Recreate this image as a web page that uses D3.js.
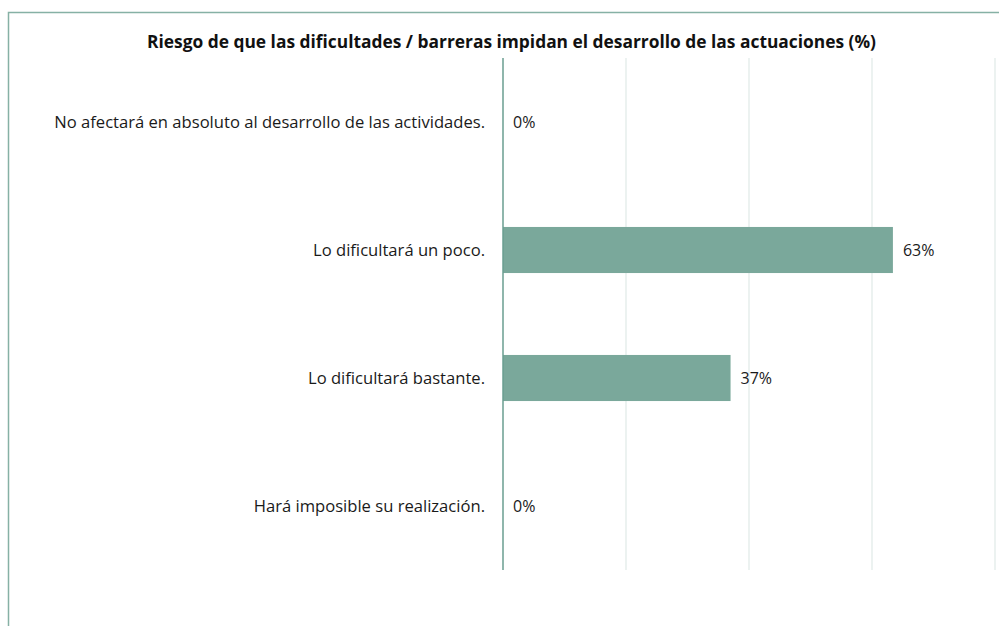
<!DOCTYPE html>
<html><head><meta charset="utf-8">
<script src="https://cdn.jsdelivr.net/npm/d3@7"></script>
<style>body{margin:0;background:#fff}svg{display:block}</style>
</head><body>
<script>
const categories = ["No afectará en absoluto al desarrollo de las actividades.","Lo dificultará un poco.","Lo dificultará bastante.","Hará imposible su realización."];
const values = [0, 63.4, 37, 0];
const labels = ["0%","63%","37%","0%"];
const ticks = [0,20,40,60,80];
const title = "Riesgo de que las dificultades / barreras impidan el desarrollo de las actuaciones (%)";

const W=999,H=626;
const svg=d3.select("body").append("svg").attr("width",W).attr("height",H);
const font="'Open Sans', 'Noto Sans', sans-serif";
// border
svg.append("rect").attr("x",8.5).attr("y",12.5).attr("width",1200).attr("height",1200)
  .attr("fill","none").attr("stroke","#86b1a5").attr("stroke-width",1.5);

const x=d3.scaleLinear().domain([0,80]).range([503,995]);
const y=d3.scaleBand().domain(categories).range([58,570]).paddingInner(0.64).paddingOuter(0.32);

svg.append("g").selectAll("line").data(ticks.slice(1)).join("line")
  .attr("x1",d=>x(d)).attr("x2",d=>x(d)).attr("y1",58).attr("y2",570)
  .attr("stroke","#dfeae7").attr("stroke-width",1.2);

svg.append("g").selectAll("rect").data(categories).join("rect")
  .attr("x",x(0)).attr("y",d=>y(d)).attr("height",y.bandwidth())
  .attr("width",(d,i)=>x(values[i])-x(0)).attr("fill","#7aa89b");

svg.append("line").attr("x1",x(0)).attr("x2",x(0)).attr("y1",58).attr("y2",570)
  .attr("stroke","#6a9e90").attr("stroke-width",1.5);

svg.append("g").selectAll("text").data(categories).join("text")
  .attr("x",485).attr("y",d=>y(d)+y.bandwidth()/2).attr("dy","0.35em")
  .attr("text-anchor","end").attr("font-family",font).attr("font-size",16.6).attr("fill","#1a1a1a")
  .text(d=>d);

svg.append("g").selectAll("text").data(categories).join("text")
  .attr("x",(d,i)=>x(values[i])+10).attr("y",d=>y(d)+y.bandwidth()/2).attr("dy","0.35em")
  .attr("font-family",font).attr("font-size",16).attr("fill","#1a1a1a")
  .text((d,i)=>labels[i]);

svg.append("text").attr("x",511.5).attr("y",48).attr("text-anchor","middle")
  .attr("font-family",font).attr("font-weight","bold").attr("font-size",17).attr("fill","#111")
  .attr("textLength",729).attr("lengthAdjust","spacingAndGlyphs")
  .text(title);
</script>
</body></html>
